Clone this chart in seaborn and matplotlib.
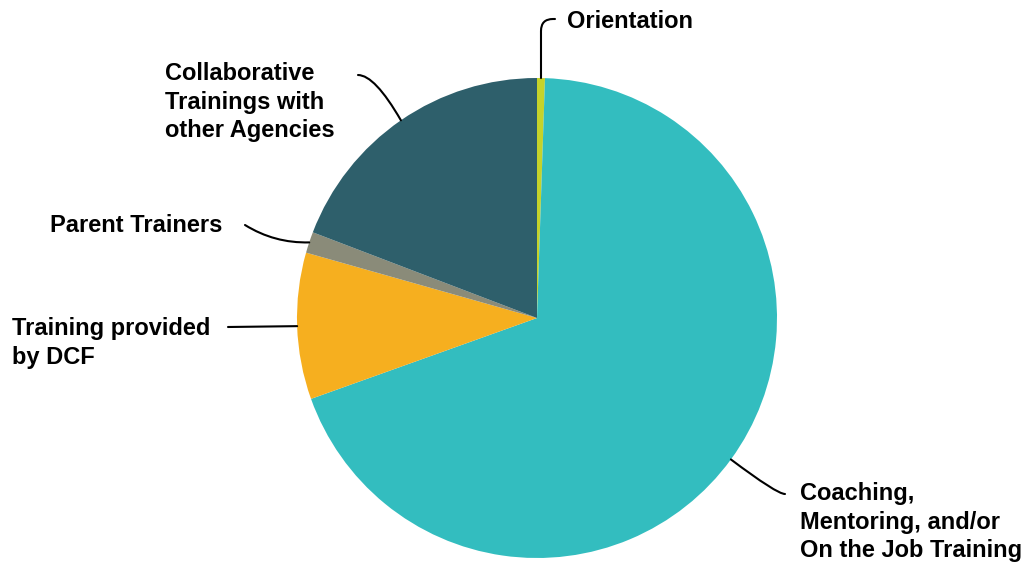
import matplotlib.pyplot as plt
import seaborn as sns
import numpy as np

# slice data, clockwise from 12 o'clock
categories = ["Orientation", "Coaching, Mentoring, and/or On the Job Training",
              "Training provided by DCF", "Parent Trainers",
              "Collaborative Trainings with other Agencies"]
shares = [0.53, 69.0, 9.86, 1.42, 19.19]
labels = ["Orientation", "Coaching,\nMentoring, and/or\nOn the Job Training",
          "Training provided\nby DCF", "Parent Trainers",
          "Collaborative\nTrainings with\nother Agencies"]
colors = ["#c5d32a", "#33bdbf", "#f6af1f", "#8a8b79", "#2e5f6b"]

sns.set_style("white")
plt.rcParams["font.family"] = ["Liberation Sans", "DejaVu Sans"]

W, H = 1029, 563
fig = plt.figure(figsize=(W / 100, H / 100), dpi=100)
ax = fig.add_axes([0, 0, 1, 1])

cx, cy, r = 537, H - 318, 240
wedges, _ = ax.pie(shares, colors=colors, startangle=90, counterclock=False,
                   center=(cx, cy), radius=r, wedgeprops=dict(linewidth=0))

ax.set_xlim(0, W)
ax.set_ylim(0, H)
ax.set_aspect("equal")
ax.axis("off")

# label text position (pixels from top-left), alignment, leader end, connection style
label_pos = [(567, 22, "left"), (800, 522, "left"), (12, 343, "left"),
             (50, 225, "left"), (165, 102, "left")]
leader_end = [(555, 19), (785, 494), (228, 327), (245, 225), (358, 75)]
conn = ["angle,angleA=180,angleB=90,rad=12",
        "angle3,angleA=0,angleB=-37",
        "arc3,rad=0.0",
        "arc3,rad=0.15",
        "angle3,angleA=0,angleB=120"]

for w, lab, (tx, ty, ha), (lx, ly), cs in zip(wedges, labels, label_pos, leader_end, conn):
    ang = np.deg2rad((w.theta1 + w.theta2) / 2)
    px = cx + r * np.cos(ang)
    py = cy + r * np.sin(ang)
    ax.text(tx, H - ty, lab, ha=ha, va="center", fontsize=17, fontweight="bold",
            linespacing=1.33, color="black")
    ax.annotate("", xy=(px, py), xytext=(lx, H - ly),
                arrowprops=dict(arrowstyle="-", color="black", lw=1.5,
                                connectionstyle=cs, shrinkA=0, shrinkB=0))

fig.savefig("out.png", dpi=100)
